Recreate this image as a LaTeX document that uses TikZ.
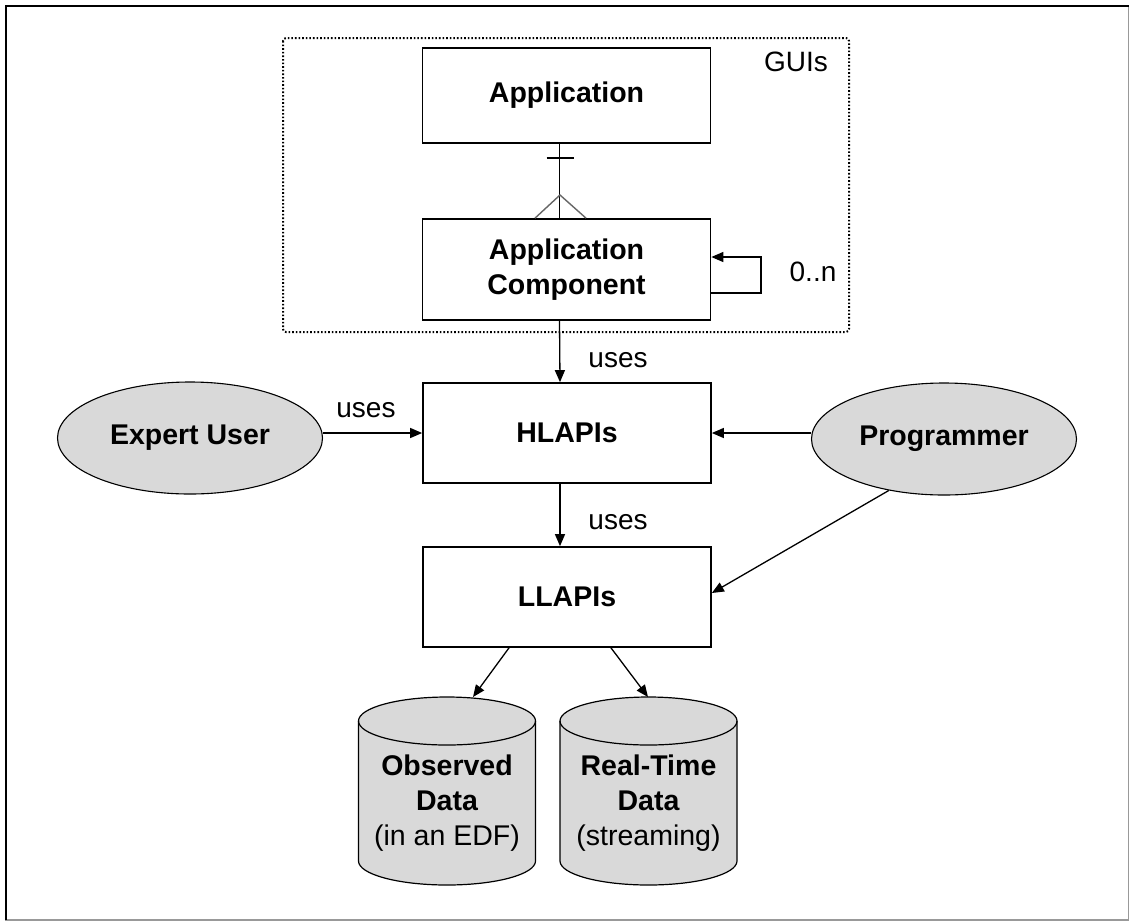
\documentclass[tikz,border=0pt]{standalone}
\usepackage{fontspec}
\setmainfont{Liberation Sans}
\usetikzlibrary{shapes.geometric,arrows.meta}
\definecolor{shade}{HTML}{D9D9D9}
\tikzset{
  lbl/.style={font=\fontsize{28}{35}\selectfont, inner sep=0pt},
  blbl/.style={font=\fontsize{28.5}{35}\selectfont\bfseries, align=center, inner sep=0pt},
  box/.style={blbl, draw, line width=1.7pt, minimum width=288pt},
  actor/.style={blbl, ellipse, draw, line width=1.1pt, fill=shade, minimum width=265pt, minimum height=112pt},
  conn/.style={line width=1.3pt, -{Triangle[length=12pt,width=10pt]}},
  cyl/.style={fill=shade, draw, line width=1.2pt},
  foot/.style={line width=1.4pt, draw=black!60},
}
\begin{document}
\begin{tikzpicture}[x=1pt,y=-1pt]
\useasboundingbox (0,0) rectangle (1130,922);
\fill[white] (0,0) rectangle (1130,922);
% outer frame
\draw[line width=1.8pt, gray!80] (1128.5,5) -- (1128.5,920) -- (5,920);
\draw[line width=2.4pt] (6,920) -- (6,6) -- (1128.5,6);
% GUIs group
\draw[line width=2pt, dash pattern=on 1.6pt off 2pt, rounded corners=3pt] (283,38) rectangle (849,332);
\node[lbl] (guis) at (796,62) {GUIs};
% boxes
\node[box, minimum height=95pt] (app) at (566.5,95.5) {Application};
\node[box, minimum height=101pt] (comp) at (566.5,269.5) {Application\\Component};
\node[box, minimum height=100pt] (hl) at (567,433) {HLAPIs};
\node[box, minimum height=100pt] (ll) at (567,597) {LLAPIs};
% actors
\node[actor] (expert) at (190,438) {Expert User};
\node[actor] (prog) at (944,439) {Programmer};
% application -- component (one-to-many)
\draw[line width=1.4pt] ([xshift=-7pt]app.south) -- ([xshift=-7pt]comp.north);
\coordinate (tick) at (560,158);
\coordinate (apex) at (560,195);
\draw[line width=1.4pt] ([xshift=-13.5pt]tick) -- ([xshift=13.5pt]tick);
\draw[foot] ([xshift=-25pt]comp.north -| apex) -- (apex) -- ([xshift=26pt]comp.north -| apex);
% self loop
\coordinate (loopA) at (761,293);
\coordinate (loopB) at (761,257);
\draw[conn] (comp.east |- loopA) -- (loopA) -- (loopB) -- (comp.east |- loopB);
\node[lbl] (mult) at (813,272) {0..n};
% uses arrows
\draw[conn] ([xshift=-7pt]comp.south) -- ([xshift=-7pt]hl.north);
\node[lbl] (uses1) at (618,360) {uses};
\draw[conn] ([xshift=-7pt]hl.south) -- ([xshift=-7pt]ll.north);
\node[lbl] (uses3) at (618,522) {uses};
\draw[conn] (expert.east |- hl.west) -- (hl.west);
\node[lbl] (uses2) at (366,410) {uses};
\draw[conn] (prog.west |- hl.east) -- (hl.east);
\draw[conn] (prog.223) -- ([yshift=4pt]ll.east);
% data stores
\path[cyl] (358.5,721) -- (358.5,861) arc[start angle=180,end angle=360,x radius=88.5pt,y radius=24pt]
  -- (535.5,721) arc[start angle=0,end angle=180,x radius=88.5pt,y radius=24pt] -- cycle;
\draw[line width=1.2pt] (358.5,721) arc[start angle=180,end angle=360,x radius=88.5pt,y radius=24pt];
\path[cyl] (560,721) -- (560,861) arc[start angle=180,end angle=360,x radius=88.5pt,y radius=24pt]
  -- (737,721) arc[start angle=0,end angle=180,x radius=88.5pt,y radius=24pt] -- cycle;
\draw[line width=1.2pt] (560,721) arc[start angle=180,end angle=360,x radius=88.5pt,y radius=24pt];
\node[blbl] (obs) at (447,803) {Observed\\Data\\\mdseries(in an EDF)};
\node[blbl] (rt) at (648.5,803) {Real-Time\\Data\\\mdseries(streaming)};
\coordinate (obstop) at (473,697);
\coordinate (rttop) at (648,697);
\draw[conn] ([xshift=-58pt]ll.south) -- (obstop);
\draw[conn] ([xshift=44pt]ll.south) -- (rttop);
\end{tikzpicture}
\end{document}
